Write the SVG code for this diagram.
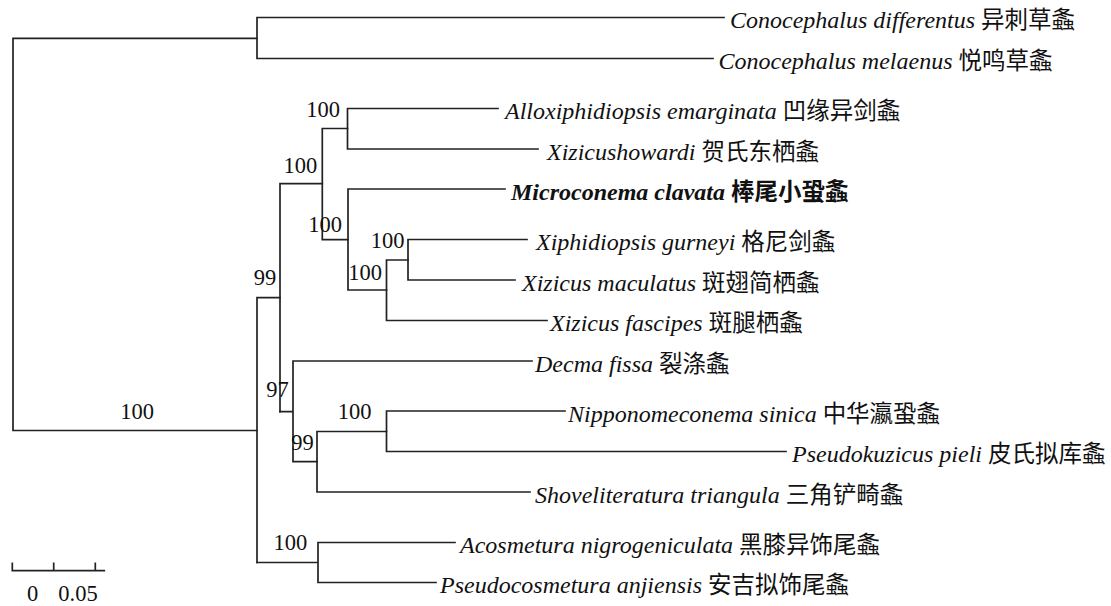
<svg xmlns="http://www.w3.org/2000/svg" width="1111" height="606" viewBox="0 0 1111 606">
<style>
.e{stroke:#222;stroke-width:1.7;fill:none;stroke-linecap:square}
.t{font-family:"Liberation Serif","Times New Roman",serif;font-size:24px;font-style:italic;fill:#111}
.c{font-family:"Noto Sans CJK SC",sans-serif;font-style:normal;font-size:23.5px}
.b{font-weight:bold}
.n{font-family:"Liberation Serif","Times New Roman",serif;font-size:22.5px;fill:#111;text-anchor:middle}
</style>
<rect width="1111" height="606" fill="#fff"/>
<g id="connectors" class="e">
<path d="M13 38.3V430.5M13 38.3H257M13 430.5H257"/>
<path d="M257 17.5V58.5M257 17.5H724M257 58.5H713"/>
<path d="M257 297.7V562.5M257 297.7H280"/>
<path d="M280 183.7V411.7M280 183.7H322.3"/>
<path d="M322.3 128.5V239.7M322.3 128.5H347.5M322.3 239.7H348"/>
<path d="M347.5 108.5V149M347.5 108.5H498M347.5 149H538"/>
<path d="M348 189V290M348 189H505M348 290H386.5"/>
<path d="M386.5 260V320.5M386.5 260H408M386.5 320.5H547"/>
<path d="M408 239.5V280M408 239.5H527M408 280H515"/>
<path d="M280 411.7H293M293 361V461.7M293 361H532M293 461.7H317"/>
<path d="M317 431.5V492M317 431.5H386.5M317 492H530"/>
<path d="M386.5 411V451.5M386.5 411H565M386.5 451.5H786"/>
<path d="M257 562.5H318M318 542.5V582.5M318 542.5H455M318 582.5H436"/>
</g>
<g id="support">
<text class="n" x="137" y="419">100</text>
<text class="n" x="323" y="117.3">100</text>
<text class="n" x="300.3" y="173.3">100</text>
<text class="n" x="325" y="231.7">100</text>
<text class="n" x="387.5" y="248.3">100</text>
<text class="n" x="365" y="280">100</text>
<text class="n" x="265" y="285">99</text>
<text class="n" x="277.5" y="396.7">97</text>
<text class="n" x="302.5" y="450">99</text>
<text class="n" x="354.5" y="419">100</text>
<text class="n" x="290.3" y="550">100</text>
</g>
<g id="n1"><text class="t" x="730" y="28">Conocephalus differentus <tspan class="c">异刺草螽</tspan></text></g>
<g id="n2"><text class="t" x="718.5" y="69">Conocephalus melaenus <tspan class="c">悦鸣草螽</tspan></text></g>
<g id="n3"><text class="t" x="505" y="119">Alloxiphidiopsis emarginata <tspan class="c">凹缘异剑螽</tspan></text></g>
<g id="n4"><text class="t" x="547" y="159.5">Xizicushowardi <tspan class="c">贺氏东栖螽</tspan></text></g>
<g id="n5"><text class="t b" x="511" y="199.5">Microconema clavata <tspan class="c b">棒尾小蛩螽</tspan></text></g>
<g id="n6"><text class="t" x="536" y="250">Xiphidiopsis gurneyi <tspan class="c">格尼剑螽</tspan></text></g>
<g id="n7"><text class="t" x="522" y="290.5">Xizicus maculatus <tspan class="c">斑翅简栖螽</tspan></text></g>
<g id="n8"><text class="t" x="550" y="331">Xizicus fascipes <tspan class="c">斑腿栖螽</tspan></text></g>
<g id="n9"><text class="t" x="535" y="371.5">Decma fissa <tspan class="c">裂涤螽</tspan></text></g>
<g id="n10"><text class="t" x="568" y="421.5">Nipponomeconema sinica <tspan class="c">中华瀛蛩螽</tspan></text></g>
<g id="n11"><text class="t" x="792" y="462">Pseudokuzicus pieli <tspan class="c">皮氏拟库螽</tspan></text></g>
<g id="n12"><text class="t" x="535" y="502.5">Shoveliteratura triangula <tspan class="c">三角铲畸螽</tspan></text></g>
<g id="n13"><text class="t" x="460" y="553">Acosmetura nigrogeniculata <tspan class="c">黑膝异饰尾螽</tspan></text></g>
<g id="n14"><text class="t" x="440" y="593">Pseudocosmetura anjiensis <tspan class="c">安吉拟饰尾螽</tspan></text></g>
<g id="scale">
<path class="e" d="M12.3 570.7H104.3M12.3 563.3V570.7M53.7 563.3V570.7M95.3 563.3V570.7"/>
<text class="n" x="32.5" y="601">0</text>
<text class="n" x="78" y="601">0.05</text>
</g>
</svg>
